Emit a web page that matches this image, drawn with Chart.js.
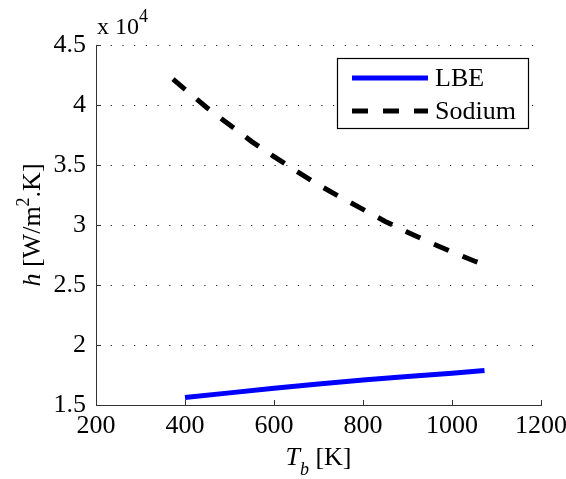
<!DOCTYPE html>
<html>
<head>
<meta charset="utf-8">
<script src="https://cdn.jsdelivr.net/npm/chart.js@4"></script>
<style>
  html, body { margin: 0; padding: 0; background: #ffffff; }
  #wrap { width: 566px; height: 479px; }
  .fontprobe { position: absolute; left: -9999px; top: 0; font-family: "Liberation Serif"; font-size: 26px; }
</style>
</head>
<body>
<span class="fontprobe">0123 LBE Sodium</span>
<span class="fontprobe" style="font-style:italic">T b h</span>
<div id="wrap"><canvas id="c" width="566" height="479"></canvas></div>
<script>
// Bulk temperature (K) and heat transfer coefficient h (W/m^2.K)
const lbeTemps    = [400, 500, 600, 700, 800, 900, 1000, 1073];
const lbeH        = [15620, 16010, 16390, 16750, 17080, 17380, 17650, 17870];
const sodiumTemps = [373, 400, 450, 500, 550, 600, 650, 700, 750, 800, 850, 900, 950, 1000, 1050, 1073];
const sodiumH     = [42150, 41300, 39750, 38350, 36950, 35700, 34500, 33350, 32300, 31300, 30300, 29400, 28550, 27750, 27000, 26700];
const seriesNames = ['LBE', 'Sodium'];
const xTicks = [200, 400, 600, 800, 1000, 1200];
const yTicks = [15000, 20000, 25000, 30000, 35000, 40000, 45000];
const yScaleFactor = 1e4;

const FONT = '"Liberation Serif", "Times New Roman", serif';
const FS = 26;

function toPoints(xs, ys) { return xs.map((x, i) => ({ x: x, y: ys[i] })); }

// Draws a run of text pieces with their own style, size and vertical shift
function drawRich(ctx, x, y, parts) {
  let cx = x;
  for (const p of parts) {
    ctx.font = (p.italic ? 'italic ' : '') + p.size + 'px ' + FONT;
    ctx.fillText(p.text, cx, y + (p.dy || 0));
    cx += ctx.measureText(p.text).width;
  }
  return cx - x;
}
function richWidth(ctx, parts) {
  let w = 0;
  for (const p of parts) {
    ctx.font = (p.italic ? 'italic ' : '') + p.size + 'px ' + FONT;
    w += ctx.measureText(p.text).width;
  }
  return w;
}

const gridPlugin = {
  id: 'dottedGrid',
  beforeDatasetsDraw(chart) {
    const { ctx, chartArea: a, scales: { y } } = chart;
    ctx.save();
    ctx.strokeStyle = '#222';
    ctx.lineWidth = 1;
    ctx.setLineDash([1.2, 10.5]);
    yTicks.forEach(v => {
      if (v === y.min) return;
      const py = Math.round(y.getPixelForValue(v)) + 0.5;
      ctx.beginPath();
      ctx.moveTo(a.left + 3, py);
      ctx.lineTo(a.right, py);
      ctx.stroke();
    });
    ctx.restore();
  }
};

const decorPlugin = {
  id: 'decor',
  afterDraw(chart) {
    const { ctx, chartArea: a, scales: { x, y } } = chart;
    ctx.save();
    // inward tick marks
    ctx.strokeStyle = '#333';
    ctx.lineWidth = 1;
    ctx.setLineDash([]);
    xTicks.forEach(v => {
      const px = Math.round(x.getPixelForValue(v)) + 0.5;
      ctx.beginPath(); ctx.moveTo(px, a.bottom); ctx.lineTo(px, a.bottom - 5); ctx.stroke();
    });
    yTicks.forEach(v => {
      const py = Math.round(y.getPixelForValue(v)) + 0.5;
      ctx.beginPath(); ctx.moveTo(a.left, py); ctx.lineTo(a.left + 5, py); ctx.stroke();
    });

    // legend box
    const bx = 337, by = 58, bw = 191, bh = 70;
    ctx.fillStyle = '#fff';
    ctx.fillRect(bx, by, bw, bh);
    ctx.strokeStyle = '#000';
    ctx.lineWidth = 1.2;
    ctx.strokeRect(bx + 0.5, by + 0.5, bw, bh);
    chart.data.datasets.forEach((ds, i) => {
      const ly = by + 20 + i * 33;
      ctx.strokeStyle = ds.borderColor;
      ctx.lineWidth = ds.borderWidth;
      ctx.lineCap = 'butt';
      ctx.setLineDash(ds.borderDash || []);
      ctx.beginPath(); ctx.moveTo(bx + 15, ly); ctx.lineTo(bx + 91, ly); ctx.stroke();
      ctx.setLineDash([]);
      ctx.fillStyle = '#000';
      ctx.font = FS + 'px ' + FONT;
      ctx.textBaseline = 'alphabetic';
      ctx.textAlign = 'left';
      ctx.fillText(ds.label, bx + 98, ly + 8);
    });

    ctx.fillStyle = '#000';
    ctx.textBaseline = 'alphabetic';
    ctx.textAlign = 'left';

    // exponent label
    drawRich(ctx, 97, 34, [
      { text: 'x 10', size: 24 },
      { text: '4', size: 18, dy: -12 }
    ]);

    // x axis title
    const xParts = [
      { text: 'T', size: FS, italic: true },
      { text: 'b', size: 18, italic: true, dy: 10 },
      { text: ' [K]', size: FS }
    ];
    const xw = richWidth(ctx, xParts);
    drawRich(ctx, (a.left + a.right) / 2 - xw / 2, 465, xParts);

    // y axis title
    const yParts = [
      { text: 'h', size: FS, italic: true },
      { text: ' [W/m', size: FS },
      { text: '2', size: 18, dy: -11 },
      { text: '.K]', size: FS }
    ];
    const yw = richWidth(ctx, yParts);
    ctx.translate(40, (a.top + a.bottom) / 2);
    ctx.rotate(-Math.PI / 2);
    drawRich(ctx, -yw / 2, 0, yParts);
    ctx.restore();
  }
};

function build() {
  new Chart(document.getElementById('c'), {
    type: 'scatter',
    data: {
      datasets: [
        {
          label: seriesNames[0],
          data: toPoints(lbeTemps, lbeH),
          showLine: true,
          borderColor: '#0000ff',
          backgroundColor: '#0000ff',
          borderWidth: 5,
          pointRadius: 0,
          tension: 0
        },
        {
          label: seriesNames[1],
          data: toPoints(sodiumTemps, sodiumH),
          showLine: true,
          borderColor: '#000000',
          backgroundColor: '#000000',
          borderWidth: 5,
          borderDash: [16, 15],
          borderCapStyle: 'butt',
          pointRadius: 0,
          tension: 0
        }
      ]
    },
    options: {
      responsive: false,
      animation: false,
      devicePixelRatio: 1,
      layout: { padding: { top: 45, right: 25, left: 0, bottom: 0 } },
      plugins: { legend: { display: false }, tooltip: { enabled: false } },
      scales: {
        x: {
          type: 'linear',
          min: xTicks[0],
          max: xTicks[xTicks.length - 1],
          afterBuildTicks: s => { s.ticks = xTicks.map(v => ({ value: v })); },
          grid: { display: false, tickLength: 0 },
          border: { display: true, color: '#333', width: 1 },
          ticks: {
            color: '#000', font: { family: FONT, size: FS }, padding: 6, maxRotation: 0, autoSkip: false,
            callback: v => String(v)
          },
          afterFit: s => { s.height = 74; s.paddingLeft = 0; s.paddingRight = 0; }
        },
        y: {
          type: 'linear',
          min: yTicks[0],
          max: yTicks[yTicks.length - 1],
          afterBuildTicks: s => { s.ticks = yTicks.map(v => ({ value: v })); },
          grid: { display: false, tickLength: 0 },
          border: { display: true, color: '#333', width: 1 },
          ticks: {
            color: '#000', font: { family: FONT, size: FS }, padding: 10, autoSkip: false,
            callback: v => String(v / yScaleFactor)
          },
          afterFit: s => { s.width = 96; s.paddingTop = 0; s.paddingBottom = 0; }
        }
      }
    },
    plugins: [gridPlugin, decorPlugin]
  });
}

Promise.all([
  document.fonts.load('26px "Liberation Serif"'),
  document.fonts.load('italic 26px "Liberation Serif"')
]).then(build, build);
</script>
</body>
</html>
